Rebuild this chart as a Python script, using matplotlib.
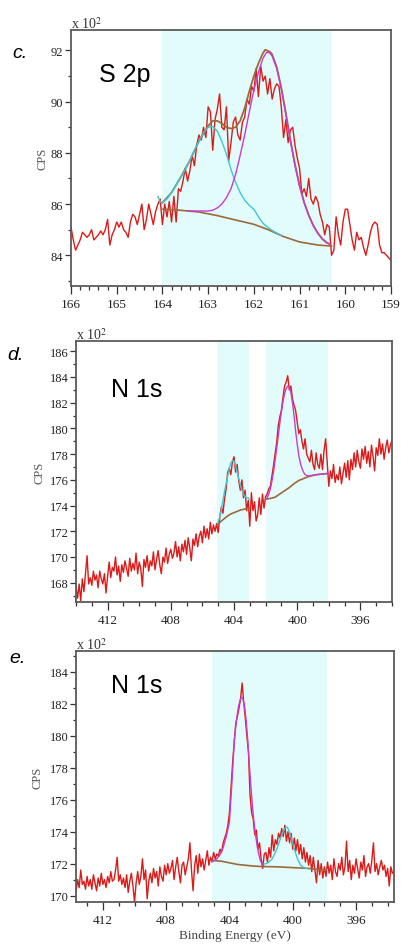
import numpy as np
import matplotlib
matplotlib.use("Agg")
import matplotlib.pyplot as plt
from matplotlib.ticker import MultipleLocator

plt.rcParams['mathtext.fontset'] = 'stix'

# ---------------- Panel c : S 2p ----------------
c_start, c_step = 166.0, 0.05
c_counts = [
    85.1, 84.6, 84.2, 84.4, 84.6, 84.9, 84.8, 84.7, 84.8, 85.0,
    84.6, 84.7, 84.8, 84.95, 84.8, 85.0, 85.4, 84.4, 84.8, 85.0,
    85.3, 85.1, 85.3, 85.0, 84.9, 84.7, 85.3, 85.6, 85.5, 85.2,
    85.6, 86.0, 85.0, 85.4, 86.0, 85.6, 85.2, 85.7, 86.0, 86.2,
    85.2, 86.0, 85.5, 86.1, 85.3, 86.3, 85.3, 86.6, 86.5, 86.9,
    87.4, 86.9, 87.3, 87.9, 87.5, 88.3, 88.7, 88.5, 89.0, 88.6,
    89.8, 89.6, 88.1, 89.3, 89.7, 90.3, 89.0, 88.9, 89.8, 87.7,
    88.4, 89.2, 89.4, 88.7, 88.5, 89.2, 89.4, 90.1, 89.9, 90.6,
    90.4, 91.3, 90.2, 91.4, 90.8, 91.0, 90.3, 90.9, 90.1, 90.5,
    90.7, 90.6, 89.8, 88.6, 89.3, 88.4, 88.9, 89.0, 88.3, 87.8,
    87.4, 86.4, 86.6, 86.3, 87.0, 86.2, 86.0, 86.3, 86.1, 85.6,
    85.3, 84.8, 85.2, 85.1, 84.0, 84.2, 85.5, 84.8, 84.4, 85.3,
    85.8, 85.8, 85.2, 84.6, 84.2, 84.9, 84.6, 84.7, 84.3, 84.0,
    84.4, 84.9, 85.2, 85.3, 85.2, 84.4, 84.1, 84.1, 84.0, 83.9,
    83.8,
]
c_bg_e = [164.0, 163.75, 163.5, 163.2, 162.8, 162.45, 162.0, 161.7, 161.35, 161.0, 160.6, 160.3]
c_bg = [85.8, 85.78, 85.74, 85.69, 85.55, 85.40, 85.21, 85.01, 84.73, 84.52, 84.40, 84.36]
c_cyan_e = [164.1, 164.05, 164.0, 163.9, 163.8, 163.7, 163.6, 163.5, 163.4, 163.3, 163.2, 163.1,
            163.0, 162.9, 162.8, 162.7, 162.6, 162.5, 162.4, 162.3, 162.2, 162.1, 162.0, 161.9,
            161.8, 161.7, 161.6, 161.5, 161.4]
c_cyan = [86.30, 86.10, 86.05, 86.20, 86.45, 86.75, 87.05, 87.35, 87.70, 88.10, 88.45, 88.80,
          89.00, 89.03, 88.85, 88.45, 87.95, 87.35, 86.85, 86.45, 86.15, 85.95, 85.80, 85.50,
          85.25, 85.10, 84.97, 84.87, 84.78]
c_mag_e = [163.45, 163.0, 162.9, 162.8, 162.7, 162.6, 162.5, 162.4, 162.3, 162.2, 162.1, 162.0,
           161.9, 161.8, 161.72, 161.65, 161.6, 161.5, 161.4, 161.3, 161.2, 161.1, 161.0, 160.9,
           160.8, 160.7, 160.6, 160.5, 160.4, 160.33]
c_mag = [85.73, 85.73, 85.76, 85.85, 86.00, 86.25, 86.60, 87.15, 87.90, 88.70, 89.60, 90.45,
         91.15, 91.70, 91.93, 91.90, 91.78, 91.30, 90.50, 89.50, 88.45, 87.50, 86.70, 86.05,
         85.55, 85.15, 84.85, 84.62, 84.48, 84.43]
c_env_e = [164.0, 163.8, 163.6, 163.4, 163.2, 163.0, 162.9, 162.8, 162.7, 162.6, 162.5, 162.4,
           162.3, 162.2, 162.1, 162.0, 161.9, 161.8, 161.75, 161.65, 161.6, 161.5, 161.4, 161.3,
           161.2, 161.1, 161.0, 160.9, 160.8, 160.7, 160.6, 160.5, 160.4, 160.33]
c_env = [86.05, 86.45, 87.05, 87.70, 88.47, 89.05, 89.25, 89.25, 89.15, 89.00, 88.95, 89.00,
         89.25, 89.75, 90.40, 91.00, 91.50, 91.90, 92.03, 91.95, 91.85, 91.35, 90.55, 89.55,
         88.50, 87.55, 86.72, 86.07, 85.57, 85.17, 84.87, 84.64, 84.49, 84.43]
c_regions = [(164.0, 160.3)]

# ---------------- Panel d : N 1s ----------------
d_start, d_step = 414.0, 0.1
d_counts = [
    167.7, 166.8, 167.9, 166.6, 168.3, 167.3, 168.7, 170.1, 167.9, 168.4,
    167.8, 168.9, 168.2, 168.6, 167.6, 168.9, 168.3, 167.9, 168.7, 167.2,
    168.5, 169.6, 168.4, 169.2, 168.9, 170.0, 168.6, 169.3, 168.1, 169.4,
    168.8, 169.7, 169.1, 168.5, 169.9, 168.9, 169.5, 169.0, 170.3, 168.7,
    169.6, 169.1, 167.7, 169.8, 169.2, 170.1, 168.9, 169.7, 169.3, 170.4,
    169.0, 169.8, 170.5, 169.4, 168.7, 170.0, 169.6, 170.7, 169.5, 170.2,
    170.6, 169.9, 170.3, 171.2, 170.0, 170.8, 169.7, 171.0, 170.4, 171.3,
    170.2, 171.5, 170.7, 169.7, 171.4, 170.9, 171.8, 170.8, 171.6, 172.0,
    171.1, 172.4, 171.5, 172.2, 171.4, 172.7, 171.8, 172.5, 172.0, 172.6,
    171.9, 173.1, 173.9, 173.4, 174.5, 175.3, 176.6, 176.9, 176.4, 177.4,
    177.8, 176.6, 177.2, 175.9, 175.2, 176.0, 174.6, 175.2, 173.6, 174.4,
    172.4, 175.0, 173.6, 174.3, 172.8, 173.3, 174.6, 173.3, 174.9, 173.8,
    174.7, 174.9, 175.3, 175.5, 176.3, 177.1, 178.0, 178.9, 180.2, 180.9,
    181.4, 182.4, 183.3, 183.6, 184.1, 183.0, 183.3, 182.3, 181.8, 181.4,
    180.5, 179.6, 179.9, 179.0, 178.4, 179.2, 178.0, 177.7, 177.4, 178.3,
    177.2, 176.8, 178.1, 177.2, 176.9, 178.0, 176.8, 178.3, 179.2, 177.4,
    175.5, 176.7, 176.1, 177.2, 175.8, 176.4, 176.0, 177.0, 175.7, 176.5,
    177.3, 176.2, 177.5, 176.0, 177.6, 176.8, 178.1, 177.0, 178.3, 177.4,
    176.9, 178.4, 177.6, 178.6, 177.3, 178.2, 177.0, 178.7, 177.8, 176.7,
    178.5, 177.9, 179.2, 178.0, 178.8, 177.6, 178.5, 179.1, 178.1, 178.7,
    179.1,
]
d_bg1_e = [405.05, 404.8, 404.6, 404.4, 404.2, 404.0, 403.6, 403.05]
d_bg1 = [172.5, 172.8, 173.0, 173.2, 173.35, 173.45, 173.65, 173.8]
d_bg2_e = [402.0, 401.7, 401.4, 401.1, 400.8, 400.5, 400.2, 399.9, 399.6, 399.3, 398.8, 398.4, 398.05]
d_bg2 = [174.5, 174.55, 174.65, 174.9, 175.15, 175.4, 175.7, 175.95, 176.1, 176.25, 176.4, 176.45, 176.5]
d_cyan_e = [405.05, 404.9, 404.8, 404.7, 404.6, 404.5, 404.4, 404.3, 404.2, 404.1, 404.0,
            403.9, 403.8, 403.7, 403.6, 403.5, 403.4, 403.3, 403.2, 403.1, 403.05]
d_cyan = [172.6, 173.1, 173.7, 174.4, 175.1, 175.7, 176.3, 176.9, 177.3, 177.5, 177.45,
          177.1, 176.6, 176.1, 175.6, 175.2, 174.9, 174.7, 174.6, 174.6, 174.5]
d_mag_e = [402.0, 401.9, 401.8, 401.7, 401.6, 401.5, 401.4, 401.3, 401.2, 401.1, 401.0,
           400.9, 400.8, 400.7, 400.6, 400.5, 400.4, 400.3, 400.2, 400.1, 400.0,
           399.9, 399.8, 399.7, 399.6, 399.5, 399.3, 398.8, 398.4, 398.05]
d_mag = [174.5, 174.6, 174.9, 175.3, 175.9, 176.6, 177.5, 178.4, 179.4, 180.4, 181.3,
         182.1, 182.7, 183.1, 183.3, 183.2, 182.8, 182.0, 181.0, 179.8, 178.8,
         177.9, 177.3, 176.9, 176.6, 176.4, 176.3, 176.4, 176.45, 176.5]
d_regions = [(405.1, 403.05), (402.0, 398.05)]

# ---------------- Panel e : N 1s ----------------
e_start, e_step = 413.7, 0.1
e_counts = [
    170.2, 171.0, 170.5, 171.6, 170.7, 170.9, 170.4, 171.2, 170.6, 171.0,
    170.4, 171.3, 170.8, 170.3, 171.1, 170.6, 171.4, 170.7, 171.0, 170.5,
    171.2, 170.8, 171.5, 170.9, 171.0, 171.6, 172.4, 170.9, 171.3, 170.7,
    171.1, 170.5, 171.3, 170.2, 170.9, 171.4, 170.6, 169.6, 170.8, 171.5,
    170.7, 171.2, 172.3, 171.0, 171.6, 169.8, 170.9, 171.4, 170.8, 171.7,
    171.1, 171.5, 170.6, 171.8, 171.2, 170.9, 171.9, 171.3, 172.0, 171.4,
    171.7, 172.2, 171.0, 171.8, 172.4, 171.5, 170.8, 171.9, 172.1, 171.3,
    171.8, 172.3, 173.3, 171.6, 170.3, 171.9, 172.5, 171.4, 172.6, 171.8,
    172.3, 171.6, 172.2, 172.8, 171.9, 172.4, 172.1, 172.7, 172.3, 172.6,
    172.5, 172.9, 172.7, 173.3, 173.6, 173.9, 174.4, 175.2, 176.8, 178.3,
    179.6, 180.8, 181.2, 181.7, 182.3, 183.3, 182.1, 181.1, 180.0, 179.0,
    176.3, 175.2, 174.8, 173.8, 174.1, 172.9, 173.3, 172.3, 171.7, 172.6,
    172.7, 172.1, 173.0, 172.4, 173.8, 172.8, 173.5, 173.2, 173.9, 173.6,
    174.2, 173.7, 174.4, 173.4, 174.0, 173.3, 173.9, 172.9, 173.6, 172.8,
    173.5, 172.6, 173.2, 172.3, 173.0, 172.1, 172.7, 171.9, 172.5, 171.5,
    172.4, 171.6, 170.8, 172.2, 171.3, 172.0, 171.1, 171.8, 171.2, 172.1,
    171.4, 171.9, 171.0, 172.3, 171.5, 171.2, 172.0, 171.6, 172.4, 171.3,
    171.8, 173.4, 171.5, 172.2, 171.0, 171.9, 171.4, 172.3, 171.7, 171.1,
    172.1, 171.6, 172.5, 171.2, 171.8, 172.0, 171.4, 172.2, 173.3, 171.5,
    172.0, 171.3, 171.8, 172.2, 171.6, 171.9, 171.2, 171.7, 170.6, 171.8,
    171.4, 171.5,
]
e_bg_e = [405.1, 404.5, 404.0, 403.5, 403.0, 402.5, 402.0, 401.0, 400.0, 399.0, 398.5, 398.0, 397.9]
e_bg = [172.2, 172.15, 172.05, 171.95, 171.9, 171.85, 171.82, 171.8, 171.75, 171.7, 171.65, 171.6, 171.6]
e_mag_e = [405.05, 404.8, 404.6, 404.4, 404.2, 404.0, 403.9, 403.8, 403.7, 403.6, 403.5, 403.4,
           403.3, 403.24, 403.15, 403.05, 402.95, 402.85, 402.75, 402.65, 402.55, 402.45,
           402.35, 402.25, 402.15, 402.05, 401.95, 401.85]
e_mag = [172.15, 172.3, 172.55, 173.0, 173.7, 174.6, 176.2, 177.8, 179.6, 180.6, 181.4, 181.95,
         182.3, 182.4, 182.3, 181.9, 181.0, 179.8, 178.3, 176.9, 175.6, 174.6,
         173.8, 173.1, 172.6, 172.2, 172.0, 171.9]
e_cyan_e = [401.9, 401.7, 401.5, 401.3, 401.1, 400.9, 400.7, 400.5, 400.4, 400.3, 400.1,
            399.9, 399.7, 399.5, 399.3, 399.1]
e_cyan = [171.95, 172.0, 172.1, 172.3, 172.7, 173.2, 173.8, 174.2, 174.3, 174.2, 173.6,
          172.9, 172.3, 171.9, 171.75, 171.7]
e_regions = [(405.1, 397.85)]

# ---------------- styles ----------------
RED = '#dd1a1a'
CYAN = '#3cc8d0'
MAG = '#c83cd0'
BROWN = '#9a6a3a'
SHADE = '#e2fcfc'
SERIF = 'Liberation Serif'
SANS = 'Liberation Sans'
W, H = 402, 945

fig = plt.figure(figsize=(W / 100, H / 100), dpi=100)


def add_ax(l, t, r, b):
    return fig.add_axes([l / W, 1 - b / H, (r - l) / W, (b - t) / H])


def energies(start, step, n):
    return start - step * np.arange(n)


def style(ax, xlim, ylim, xmaj, xmin, ymaj, ymin, cps_x):
    ax.set_xlim(*xlim)
    ax.set_ylim(*ylim)
    ax.xaxis.set_major_locator(MultipleLocator(xmaj))
    ax.xaxis.set_minor_locator(MultipleLocator(xmin))
    ax.yaxis.set_major_locator(MultipleLocator(ymaj))
    ax.yaxis.set_minor_locator(MultipleLocator(ymin))
    for s in ax.spines.values():
        s.set_color('#5a5a5a')
        s.set_linewidth(1.3)
    ax.tick_params(axis='x', which='major', direction='out', length=6, width=0.9,
                   color='#333333', pad=3.0, labelsize=9.5, labelcolor='#222222')
    ax.tick_params(axis='x', which='minor', direction='out', length=3, width=0.9,
                   color='#333333')
    ax.tick_params(axis='y', which='major', direction='out', length=4.5, width=0.9,
                   color='#333333', pad=1.0, labelsize=9, labelcolor='#222222')
    ax.tick_params(axis='y', which='minor', direction='out', length=2.5, width=0.9,
                   color='#333333')
    for lbl in ax.get_xticklabels() + ax.get_yticklabels():
        lbl.set_family(SERIF)
    ax.text(cps_x, 0.5, 'CPS', transform=ax.transAxes, rotation=90, ha='center',
            va='center', family=SERIF, fontsize=9, color='#555555')
    ax.annotate(r'x 10$^2$', xy=(0, 1), xycoords='axes fraction', xytext=(0, 1.5),
                textcoords='offset points', ha='left', va='baseline',
                family=SERIF, fontsize=10, color='#333333')


# panel c
axc = add_ax(71, 31, 391, 287)
for a, b in c_regions:
    axc.axvspan(a, b, color=SHADE, lw=0, zorder=0)
ec = energies(c_start, c_step, len(c_counts))
axc.plot(ec, c_counts, color=RED, lw=1.0, zorder=2)
axc.plot(c_bg_e, c_bg, color=BROWN, lw=1.2, zorder=3)
axc.plot(c_env_e, c_env, color=BROWN, lw=1.3, zorder=2.5)
axc.plot(c_cyan_e, c_cyan, color=CYAN, lw=1.0, zorder=3)
axc.plot(c_mag_e, c_mag, color=MAG, lw=1.0, zorder=3)
style(axc, (166, 159), (82.8, 92.8), 1, 0.2, 2, 1, -0.09)
axc.text(0.087, 0.80, 'S 2p', transform=axc.transAxes, family=SANS, fontsize=18,
         va='baseline', ha='left')

# panel d
axd = add_ax(76, 342, 392, 603)
for a, b in d_regions:
    axd.axvspan(a, b, color=SHADE, lw=0, zorder=0)
ed = energies(d_start, d_step, len(d_counts))
axd.plot(ed, d_counts, color=RED, lw=1.0, zorder=2)
axd.plot(d_bg1_e, d_bg1, color=BROWN, lw=1.2, zorder=3)
axd.plot(d_bg2_e, d_bg2, color=BROWN, lw=1.2, zorder=3)
axd.plot(d_cyan_e, d_cyan, color=CYAN, lw=1.0, zorder=3)
axd.plot(d_mag_e, d_mag, color=MAG, lw=1.0, zorder=3)
style(axd, (414, 394), (166.5, 186.8), 4, 1, 2, 1, -0.117)
axd.text(0.111, 0.789, 'N 1s', transform=axd.transAxes, family=SANS, fontsize=18,
         va='baseline', ha='left')

# panel e
axe = add_ax(76, 652, 394, 903)
for a, b in e_regions:
    axe.axvspan(a, b, color=SHADE, lw=0, zorder=0)
ee = energies(e_start, e_step, len(e_counts))
axe.plot(ee, e_counts, color=RED, lw=1.0, zorder=2)
axe.plot(e_bg_e, e_bg, color=BROWN, lw=1.2, zorder=3)
axe.plot(e_cyan_e, e_cyan, color=CYAN, lw=1.0, zorder=3)
axe.plot(e_mag_e, e_mag, color=MAG, lw=1.0, zorder=3)
style(axe, (413.7, 393.6), (169.6, 185.3), 4, 1, 2, 1, -0.12)
axe.text(0.11, 0.837, 'N 1s', transform=axe.transAxes, family=SANS, fontsize=18,
         va='baseline', ha='left')
axe.set_xlabel('Binding Energy (eV)', family=SERIF, fontsize=9.5, color='#444444',
               labelpad=2)

# panel letters
for (x, y, s) in [(12, 58, 'c.'), (7, 360, 'd.'), (9, 663, 'e.')]:
    fig.text(x / W, 1 - y / H, s, family=SANS, style='italic', fontsize=14,
             va='baseline', ha='left')

fig.savefig('out.png', dpi=100)
